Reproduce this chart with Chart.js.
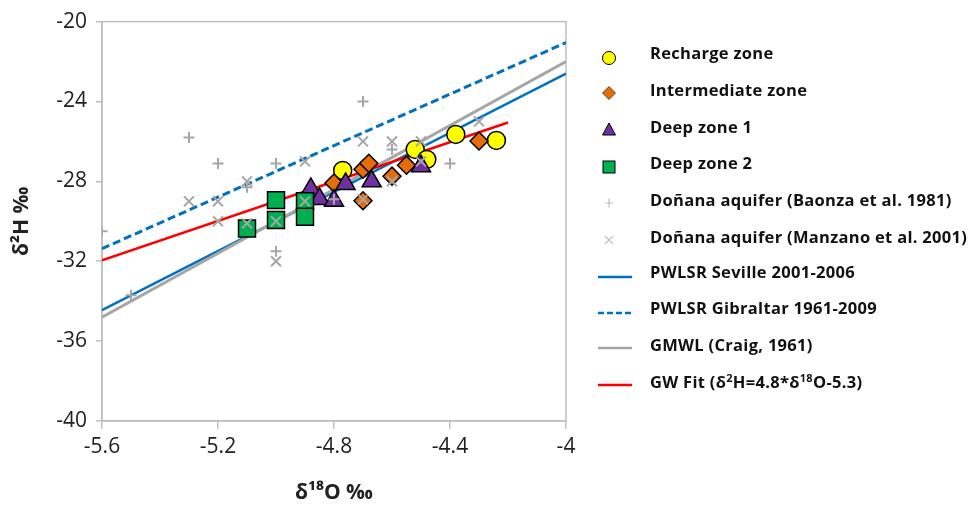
<!DOCTYPE html>
<html>
<head>
<meta charset="utf-8">
<script src="https://cdn.jsdelivr.net/npm/chart.js@4/dist/chart.umd.min.js"></script>
<style>
  body { margin: 0; background: #fff; }
  #wrap { position: relative; width: 973px; height: 508px; }
  #legend { position: absolute; left: 590px; top: 0; font: bold 16.5px "Open Sans", sans-serif; letter-spacing: 0.3px; color: #111; }
  #legend .item { position: absolute; left: 0; height: 24px; line-height: 24px; white-space: nowrap; }
  #legend svg { position: absolute; left: 0; top: 0; }
  #legend span { position: absolute; left: 60px; top: 0; }
  #legend sup { font-size: 11px; line-height: 0; vertical-align: 6px; }
</style>
</head>
<body>
<div id="wrap">
  <canvas id="isoChart" width="973" height="508"></canvas>
  <div id="legend"></div>
</div>
<script>
// axis ticks
const xTicks = [-5.6, -5.2, -4.8, -4.4, -4];
const yTicks = [-40, -36, -32, -28, -24, -20];

// groundwater samples
const rechargeX = [-4.77, -4.52, -4.48, -4.38, -4.24];
const rechargeY = [-27.45, -26.4, -26.9, -25.65, -25.95];

const intermX = [-4.80, -4.70, -4.68, -4.70, -4.60, -4.55, -4.30];
const intermY = [-28.08, -27.39, -27.09, -28.97, -27.74, -27.19, -25.98];

const deep1X = [-4.88, -4.85, -4.80, -4.76, -4.67, -4.50];
const deep1Y = [-28.38, -28.88, -28.97, -28.13, -28.0, -27.24];

const deep2X = [-5.1, -5.0, -5.0, -4.9, -4.9];
const deep2Y = [-30.36, -28.94, -29.94, -28.99, -29.77];

// literature data
const baonzaX = [-5.6, -5.5, -5.3, -5.2, -5.0, -5.1, -5.0, -4.8, -4.7, -4.6, -4.4];
const baonzaY = [-30.5, -33.7, -25.8, -27.1, -27.1, -28.3, -31.5, -28.9, -24.0, -26.4, -27.1];

const manzanoX = [-5.3, -5.2, -5.2, -5.1, -5.1, -5.0, -5.0, -4.9, -4.9, -4.7, -4.6, -4.5, -4.3, -4.7, -4.6, -4.5];
const manzanoY = [-29.0, -29.0, -30.0, -28.0, -30.1, -30.0, -32.0, -27.0, -29.0, -26.0, -26.0, -26.0, -25.0, -28.9, -28.0, -27.0];

// reference lines (end points)
const sevilleX = [-5.6, -4];
const sevilleY = [-34.45, -22.6];
const gibraltarX = [-5.6, -4];
const gibraltarY = [-31.37, -21.05];
const gmwlX = [-5.6, -4];
const gmwlY = [-34.8, -22.0];
const gwFitX = [-5.6, -4.2];
const gwFitY = [-31.95, -25.05];

function pts(xs, ys) {
  return xs.map((x, i) => ({ x: x, y: ys[i] }));
}

const FONT = '"Open Sans", sans-serif';
const AXIS_GRAY = '#bfbfbf';

const framePlugin = {
  id: 'frame',
  beforeDatasetsDraw(chart) {
    const { ctx, chartArea: a } = chart;
    ctx.save();
    ctx.strokeStyle = AXIS_GRAY;
    ctx.lineWidth = 1.5;
    ctx.strokeRect(a.left, a.top, a.right - a.left, a.bottom - a.top);
    ctx.restore();
  }
};

function marker(data, style, radius, fill, order) {
  return {
    data: data,
    pointStyle: style,
    pointRadius: radius,
    pointBackgroundColor: fill,
    pointBorderColor: '#000',
    pointBorderWidth: 1.5,
    showLine: false,
    order: order
  };
}

function grayMarker(data, style, radius, order) {
  return {
    data: data,
    pointStyle: style,
    pointRadius: radius,
    pointBorderColor: '#a6a6a6',
    pointBorderWidth: 2,
    showLine: false,
    order: order
  };
}

function refLine(data, color, width, dash, order) {
  return {
    data: data,
    showLine: true,
    borderColor: color,
    borderWidth: width,
    borderDash: dash,
    pointRadius: 0,
    fill: false,
    order: order
  };
}

const fmt = v => String(Number(v.toFixed(1)));

const ctx = document.getElementById('isoChart').getContext('2d');
const isoChart = new Chart(ctx, {
  type: 'scatter',
  data: {
    datasets: [
      grayMarker(pts(manzanoX, manzanoY), 'crossRot', 7, 0),
      grayMarker(pts(baonzaX, baonzaY), 'cross', 5.5, 1),
      marker(pts(deep2X, deep2Y), 'rect', 12, '#00b050', 2),
      marker(pts(deep1X, deep1Y), 'triangle', 11, '#7030a0', 3),
      marker(pts(intermX, intermY), 'rectRot', 9, '#e46c0a', 4),
      marker(pts(rechargeX, rechargeY), 'circle', 9, '#ffff00', 5),
      refLine(pts(gwFitX, gwFitY), '#ff0000', 2.5, [], 6),
      refLine(pts(gmwlX, gmwlY), '#a6a6a6', 3, [], 7),
      refLine(pts(gibraltarX, gibraltarY), '#0070c0', 3, [8, 4], 8),
      refLine(pts(sevilleX, sevilleY), '#0070c0', 2.5, [], 9)
    ]
  },
  options: {
    responsive: false,
    animation: false,
    events: [],
    layout: { padding: { left: 0, top: 18, right: 407, bottom: 0 } },
    plugins: {
      legend: { display: false },
      tooltip: { enabled: false }
    },
    scales: {
      x: {
        type: 'linear',
        min: -5.6,
        max: -4,
        afterBuildTicks: s => { s.ticks = xTicks.map(v => ({ value: v })); },
        afterFit: s => { s.height = 87; },
        grid: { drawOnChartArea: false, color: AXIS_GRAY, lineWidth: 1.5, tickLength: 8 },
        border: { color: AXIS_GRAY, width: 1.5 },
        ticks: { font: { family: FONT, size: 21 }, color: '#222', padding: 5, maxRotation: 0, autoSkip: false, callback: v => fmt(v) },
        title: { display: true, text: 'δ¹⁸O ‰', color: '#222', font: { family: FONT, size: 21, weight: 'bold' }, padding: { top: 0, bottom: 2 } }
      },
      y: {
        type: 'linear',
        min: -40,
        max: -20,
        afterBuildTicks: s => { s.ticks = yTicks.map(v => ({ value: v })); },
        afterFit: s => { s.width = 102; },
        grid: { drawOnChartArea: false, color: AXIS_GRAY, lineWidth: 1.5, tickLength: 6 },
        border: { color: AXIS_GRAY, width: 1.5 },
        ticks: { font: { family: FONT, size: 21 }, color: '#222', padding: 9, callback: v => fmt(v) },
        title: { display: true, text: 'δ²H ‰', color: '#222', font: { family: FONT, size: 21, weight: 'bold' }, padding: { top: 9, bottom: 0 } }
      }
    }
  },
  plugins: [framePlugin]
});

// legend (html, placed to match the figure)
const legendItems = [
  { label: 'Recharge zone', icon: 'circle', fill: '#ffff00', textY: 53, markY: 58 },
  { label: 'Intermediate zone', icon: 'diamond', fill: '#e46c0a', textY: 90, markY: 93 },
  { label: 'Deep zone 1', icon: 'triangle', fill: '#7030a0', textY: 127, markY: 130 },
  { label: 'Deep zone 2', icon: 'square', fill: '#00b050', textY: 163, markY: 167 },
  { label: 'Doñana aquifer (Baonza et al. 1981)', icon: 'plus', textY: 200, markY: 203 },
  { label: 'Doñana aquifer (Manzano et al. 2001)', icon: 'x', textY: 237, markY: 240 },
  { label: 'PWLSR Seville 2001-2006', icon: 'line', color: '#0070c0', textY: 272, markY: 277 },
  { label: 'PWLSR Gibraltar 1961-2009', icon: 'dash', color: '#0070c0', textY: 308, markY: 313 },
  { label: 'GMWL (Craig, 1961)', icon: 'line', color: '#a6a6a6', textY: 345, markY: 348 },
  { label: 'GW Fit (δ<sup>2</sup>H=4.8*δ<sup>18</sup>O-5.3)', icon: 'line', color: '#ff0000', textY: 382, markY: 385 }
];

function iconSvg(it) {
  const cy = 12 + (it.markY - it.textY);
  const cx = 19;
  let shape = '';
  switch (it.icon) {
    case 'circle':
      shape = `<circle cx="${cx}" cy="${cy}" r="6.5" fill="${it.fill}" stroke="#000" stroke-width="1"/>`; break;
    case 'diamond':
      shape = `<polygon points="${cx},${cy - 6.5} ${cx + 6.5},${cy} ${cx},${cy + 6.5} ${cx - 6.5},${cy}" fill="${it.fill}" stroke="#000" stroke-width="0.6"/>`; break;
    case 'triangle':
      shape = `<polygon points="${cx},${cy - 7} ${cx + 6.5},${cy + 5} ${cx - 6.5},${cy + 5}" fill="${it.fill}" stroke="#000" stroke-width="1"/>`; break;
    case 'square':
      shape = `<rect x="${cx - 6}" y="${cy - 6}" width="12" height="12" fill="${it.fill}" stroke="#000" stroke-width="1"/>`; break;
    case 'plus':
      shape = `<path d="M${cx - 4.5} ${cy}H${cx + 4.5}M${cx} ${cy - 4.5}V${cy + 4.5}" stroke="#bfbfbf" stroke-width="1.2"/>`; break;
    case 'x':
      shape = `<path d="M${cx - 4} ${cy - 4}L${cx + 4} ${cy + 4}M${cx + 4} ${cy - 4}L${cx - 4} ${cy + 4}" stroke="#bfbfbf" stroke-width="1.2"/>`; break;
    case 'line':
      shape = `<line x1="8" y1="${cy}" x2="42" y2="${cy}" stroke="${it.color}" stroke-width="2.5"/>`; break;
    case 'dash':
      shape = `<line x1="8" y1="${cy}" x2="42" y2="${cy}" stroke="${it.color}" stroke-width="2.5" stroke-dasharray="6 3"/>`; break;
  }
  return `<svg width="60" height="24" viewBox="0 0 60 24">${shape}</svg>`;
}

const legendEl = document.getElementById('legend');
legendItems.forEach(it => {
  const div = document.createElement('div');
  div.className = 'item';
  div.style.top = (it.textY - 12) + 'px';
  div.innerHTML = iconSvg(it) + `<span>${it.label}</span>`;
  legendEl.appendChild(div);
});
</script>
</body>
</html>
